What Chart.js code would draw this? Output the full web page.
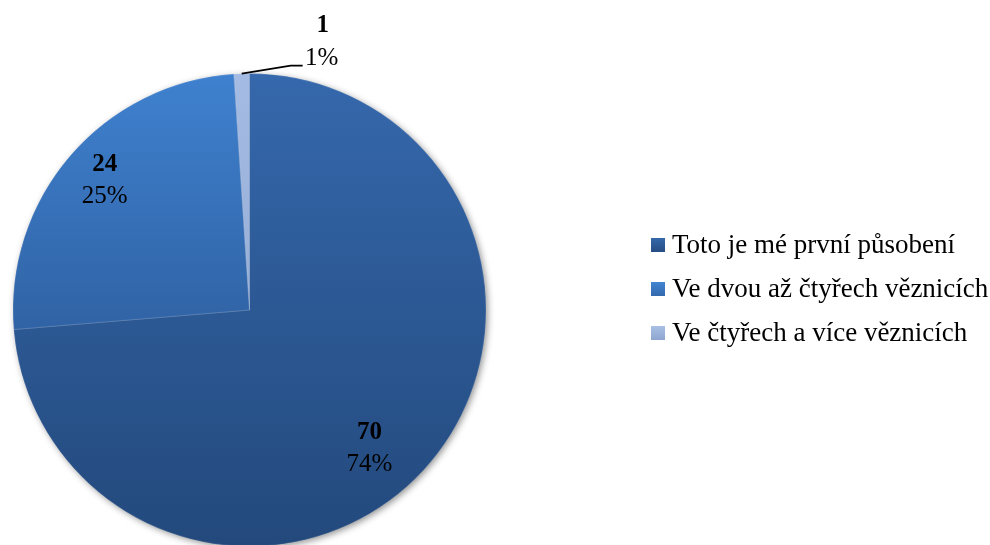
<!DOCTYPE html>
<html>
<head>
<meta charset="utf-8">
<script src="https://cdn.jsdelivr.net/npm/chart.js@4.4.1/dist/chart.umd.min.js"></script>
<style>
  html, body { margin: 0; padding: 0; background: #ffffff; overflow: hidden; width: 990px; height: 545px; }
  canvas { position: absolute; left: 0; top: 0; }
</style>
</head>
<body>
<canvas id="c" width="990" height="560"></canvas>
<script>
// ---- data ----
const categories = ["Toto je mé první působení", "Ve dvou až čtyřech věznicích", "Ve čtyřech a více věznicích"];
const counts = [70, 24, 1];

// ---- styles ----
const gradTop = ["#3568ac", "#3f81cf", "#a4bbe3"];
const gradBottom = ["#23497c", "#3063a5", "#97aed7"];
const legendTop = ["#3668aa", "#4285d2", "#a9bfe4"];
const legendBottom = ["#254d82", "#3368ad", "#8ea6cf"];
const serif = "'Liberation Serif', 'Times New Roman', serif";

function sliceGradient(ctx) {
  const chart = ctx.chart;
  const i = ctx.dataIndex;
  const area = chart.chartArea;
  if (!area) return gradTop[i];
  const c = chart.ctx;
  const cy = (area.top + area.bottom) / 2;
  let y0 = area.top, y1 = area.bottom;
  if (i === 1) { y1 = cy + 20; }
  if (i === 2) { y1 = cy; }
  const g = c.createLinearGradient(0, y0, 0, y1);
  g.addColorStop(0, gradTop[i]);
  g.addColorStop(1, gradBottom[i]);
  return g;
}

const shadowPlugin = {
  id: 'shadow',
  beforeDatasetsDraw(chart) {
    const arc = chart.getDatasetMeta(0).data[0];
    if (!arc) return;
    const c = chart.ctx;
    c.save();
    c.shadowColor = 'rgba(0,0,0,0.45)';
    c.shadowBlur = 7;
    c.shadowOffsetX = 2;
    c.shadowOffsetY = 2;
    c.fillStyle = '#2a558f';
    c.beginPath();
    c.arc(arc.x, arc.y, arc.outerRadius - 0.5, 0, Math.PI * 2);
    c.fill();
    c.restore();
  }
};

// label placement (radius ratio, angle shift in degrees); -1 = outside with leader
const labelPlace = [{ r: 0.775, da: 6.5 }, { r: 0.82, da: 1 }, { r: -1, da: 0 }];

const labelPlugin = {
  id: 'labels',
  afterDatasetsDraw(chart) {
    const meta = chart.getDatasetMeta(0);
    const data = chart.data.datasets[0].data;
    const total = data.reduce((a, b) => a + b, 0);
    const c = chart.ctx;
    c.save();
    c.fillStyle = '#000';
    c.textAlign = 'center';
    c.textBaseline = 'middle';
    meta.data.forEach((arc, i) => {
      const mid = (arc.startAngle + arc.endAngle) / 2;
      const pct = Math.round(data[i] / total * 100) + '%';
      const p = labelPlace[i];
      let x, y;
      if (p.r > 0) {
        const a = mid + p.da * Math.PI / 180;
        x = arc.x + Math.cos(a) * arc.outerRadius * p.r;
        y = arc.y + Math.sin(a) * arc.outerRadius * p.r;
        c.font = 'bold 25px ' + serif;
        c.fillText(String(data[i]), x, y - 16);
        c.font = '25px ' + serif;
        c.fillText(pct, x, y + 16);
      } else {
        const sx = arc.x + Math.cos(mid) * arc.outerRadius;
        const sy = arc.y + Math.sin(mid) * arc.outerRadius;
        const ex = sx + 49, ey = sy - 8;
        const hx = ex + 12;
        c.strokeStyle = '#000';
        c.lineWidth = 1.8;
        c.beginPath();
        c.moveTo(sx, sy);
        c.lineTo(ex, ey);
        c.lineTo(hx, ey);
        c.stroke();
        x = hx + 19;
        c.font = 'bold 25px ' + serif;
        c.fillText(String(data[i]), x + 1, ey - 40);
        c.font = '25px ' + serif;
        c.fillText(pct, x, ey - 7);
      }
    });
    c.restore();
  }
};

const legendPlugin = {
  id: 'customLegend',
  afterDraw(chart) {
    const c = chart.ctx;
    const x0 = 651, y0 = 245, step = 44, sq = 14;
    c.save();
    c.textAlign = 'left';
    c.textBaseline = 'middle';
    c.font = '27px ' + serif;
    chart.data.labels.forEach((lab, i) => {
      const y = y0 + i * step;
      const g = c.createLinearGradient(0, y - sq / 2, 0, y + sq / 2);
      g.addColorStop(0, legendTop[i]);
      g.addColorStop(1, legendBottom[i]);
      c.fillStyle = g;
      c.fillRect(x0, y - sq / 2, sq, sq);
      c.fillStyle = '#000';
      c.fillText(lab, x0 + 21, y + 1);
    });
    c.restore();
  }
};

new Chart(document.getElementById('c'), {
  type: 'pie',
  data: {
    labels: categories,
    datasets: [{
      data: counts,
      backgroundColor: sliceGradient,
      borderColor: 'rgba(255,255,255,0.15)',
      borderWidth: 1
    }]
  },
  options: {
    responsive: false,
    devicePixelRatio: 1,
    animation: false,
    rotation: 0,
    layout: { padding: { left: 12, top: 73, right: 503, bottom: 13 } },
    plugins: {
      legend: { display: false },
      tooltip: { enabled: false }
    }
  },
  plugins: [shadowPlugin, labelPlugin, legendPlugin]
});
</script>
</body>
</html>
